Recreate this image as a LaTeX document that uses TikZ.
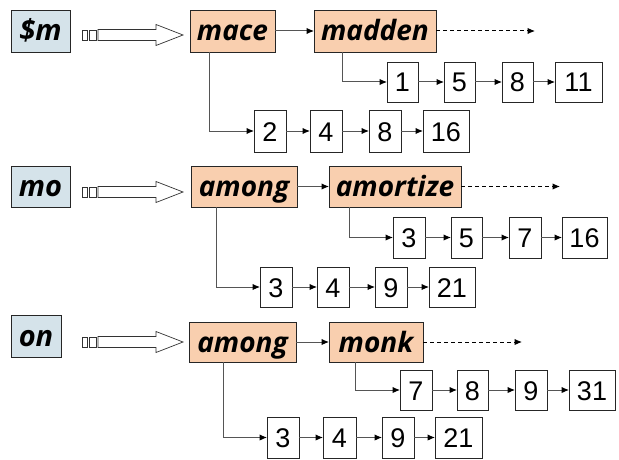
\documentclass[tikz,border=0pt]{standalone}
\usepackage{fontspec}
\setmainfont{Liberation Sans}
\newfontfamily\termfont{Open Sans}
\usetikzlibrary{arrows.meta}
\definecolor{keyfill}{HTML}{D5E3EA}
\definecolor{termfill}{HTML}{F9CFAF}
\definecolor{linegray}{HTML}{555555}
\tikzset{
  base/.style={draw=black!85, line width=0.9pt, inner sep=0pt, outer sep=0pt},
  keybox/.style={base, fill=keyfill, text height=20pt, text depth=0pt, font=\termfont\bfseries\itshape\fontsize{29}{29}\selectfont},
  termbox/.style={base, fill=termfill, text height=20pt, text depth=0pt, font=\termfont\bfseries\itshape\fontsize{28}{28}\selectfont},
  numbox/.style={base, fill=white, text height=20pt, text depth=0pt, font=\fontsize{27}{27}\selectfont},
  conn/.style={draw=linegray, line width=1pt, -{Latex[length=7.5pt,width=6.5pt,color=black]}},
  dashconn/.style={conn, dash pattern=on 4pt off 3pt, draw=black},
  hollow/.style={draw=black!80, line width=0.7pt, fill=white}
}
\newcommand\boxat[7]{\node[#1,minimum width={(#4-#3)*1pt},minimum height={(#6-#5)*1pt}] (#2) at ({(#3+#4)/2},{(#5+#6)/2}) {#7};}
\newcommand\hollowarrow[1]{%
  \draw[hollow] (82,#1-5) rectangle (87,#1+5);
  \draw[hollow] (89,#1-5) rectangle (96,#1+5);
  \draw[hollow] (98,#1-5.5) -- (156,#1-5.5) -- (156,#1-10.5) -- (183,#1) -- (156,#1+10.5) -- (156,#1+5.5) -- (98,#1+5.5) -- cycle;}
\begin{document}
\begin{tikzpicture}[x=1pt,y=-1pt]
\useasboundingbox (0,0) rectangle (619,460);

% ---------- block 1 ----------
\boxat{keybox}{k1}{11}{70}{10}{52}{\$m}
\hollowarrow{35}
\boxat{termbox}{t1a}{190}{275}{10}{52}{mace}
\boxat{termbox}{t1b}{314}{436}{10}{52}{madden}
\coordinate (e1) at (535,31);
\draw[conn] (t1a.east) -- (t1b.west);
\draw[dashconn] (t1b.east) -- (e1);

\boxat{numbox}{a1}{387}{418}{62}{102}{1}
\boxat{numbox}{a2}{444}{475}{62}{102}{5}
\boxat{numbox}{a3}{502}{533}{62}{102}{8}
\boxat{numbox}{a4}{555}{602}{62}{102}{11}
\draw[conn] ([xshift=28pt]t1b.south west) |- (a1.west);
\draw[conn] (a1) -- (a2);
\draw[conn] (a2) -- (a3);
\draw[conn] (a3) -- (a4);

\boxat{numbox}{b1}{254}{286}{110}{152}{2}
\boxat{numbox}{b2}{310}{342}{110}{152}{4}
\boxat{numbox}{b3}{369}{401}{110}{152}{8}
\boxat{numbox}{b4}{423}{469}{110}{152}{16}
\draw[conn] ([xshift=19pt]t1a.south west) |- (b1.west);
\draw[conn] (b1) -- (b2);
\draw[conn] (b2) -- (b3);
\draw[conn] (b3) -- (b4);

% ---------- block 2 ----------
\boxat{keybox}{k2}{11}{70}{166}{207}{mo}
\hollowarrow{192}
\boxat{termbox}{t2a}{191}{297}{166}{207}{among}
\boxat{termbox}{t2b}{329}{461}{166}{207}{amortize}
\coordinate (e2) at (560,186.5);
\draw[conn] (t2a.east) -- (t2b.west);
\draw[dashconn] (t2b.east) -- (e2);

\boxat{numbox}{c1}{393}{425}{217}{258}{3}
\boxat{numbox}{c2}{451}{482}{217}{258}{5}
\boxat{numbox}{c3}{509}{541}{217}{258}{7}
\boxat{numbox}{c4}{562}{607}{217}{258}{16}
\draw[conn] ([xshift=20pt]t2b.south west) |- (c1.west);
\draw[conn] (c1) -- (c2);
\draw[conn] (c2) -- (c3);
\draw[conn] (c3) -- (c4);

\boxat{numbox}{d1}{260}{292}{267}{307}{3}
\boxat{numbox}{d2}{317}{349}{267}{307}{4}
\boxat{numbox}{d3}{375}{407}{267}{307}{9}
\boxat{numbox}{d4}{429}{475}{267}{307}{21}
\draw[conn] ([xshift=25pt]t2a.south west) |- (d1.west);
\draw[conn] (d1) -- (d2);
\draw[conn] (d2) -- (d3);
\draw[conn] (d3) -- (d4);

% ---------- block 3 ----------
\boxat{keybox}{k3}{11}{61}{315}{357}{on}
\hollowarrow{342}
\boxat{termbox}{t3a}{189}{296}{322}{362}{among}
\boxat{termbox}{t3b}{329}{423}{322}{362}{monk}
\coordinate (e3) at (522,342);
\draw[conn] (t3a.east) -- (t3b.west);
\draw[dashconn] (t3b.east) -- (e3);

\boxat{numbox}{f1}{400}{432}{370}{410}{7}
\boxat{numbox}{f2}{457}{488}{370}{410}{8}
\boxat{numbox}{f3}{515}{547}{370}{410}{9}
\boxat{numbox}{f4}{569}{615}{370}{410}{31}
\draw[conn] ([xshift=26pt]t3b.south west) |- (f1.west);
\draw[conn] (f1) -- (f2);
\draw[conn] (f2) -- (f3);
\draw[conn] (f3) -- (f4);

\boxat{numbox}{g1}{267}{299}{417}{458}{3}
\boxat{numbox}{g2}{323}{356}{417}{458}{4}
\boxat{numbox}{g3}{382}{414}{417}{458}{9}
\boxat{numbox}{g4}{435}{482}{417}{458}{21}
\draw[conn] ([xshift=34pt]t3a.south west) |- (g1.west);
\draw[conn] (g1) -- (g2);
\draw[conn] (g2) -- (g3);
\draw[conn] (g3) -- (g4);
\end{tikzpicture}
\end{document}
